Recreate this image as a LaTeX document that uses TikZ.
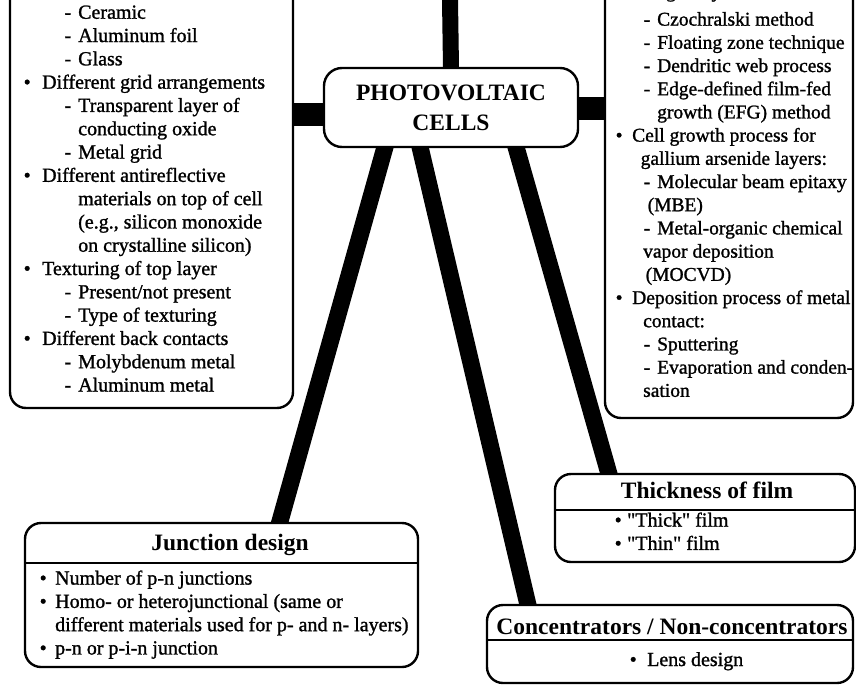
\documentclass[tikz,border=0pt]{standalone}
\usepackage{fontspec}
\setmainfont{Liberation Serif}
\newfontfamily\pvtext{Liberation Serif}[FakeBold=1.2]
\usetikzlibrary{backgrounds}

% list lines: bullet, dash and run-on lines
\newcommand\pvbul[2][18.5pt]{\makebox[#1][l]{\textbullet}#2}
\newcommand\pvdash[2][54.5pt]{\makebox[#1][r]{-\hspace{7pt}}#2}
\newcommand\pvmore[2][54.5pt]{\hspace*{#1}#2}

\tikzset{
  box/.style={draw, line width=2.4pt, rounded corners=16pt, fill=white, inner sep=0pt, outer sep=0pt},
  hub/.style={box, rounded corners=18pt, align=center, font=\bfseries\fontsize{23.5}{30}\selectfont},
  head/.style={anchor=base, inner sep=0pt, font=\bfseries\fontsize{23.5}{28}\selectfont},
  body/.style={anchor=north west, inner sep=0pt, align=left, font=\pvtext\fontsize{20}{23.3}\selectfont},
  bar/.style={line width=17pt, shorten <=-12pt, shorten >=-12pt},
  rule/.style={line width=1.6pt}
}

\begin{document}
\begin{tikzpicture}[x=1pt,y=-1pt]
\useasboundingbox (0,0) rectangle (856,685);
\clip (0,0) rectangle (856,685);

% hub and the five boxes
\node[hub, minimum width=254pt, minimum height=79pt] (pv) at (451,107.5) {PHOTOVOLTAIC\\CELLS};
\node[box, minimum width=283pt, minimum height=448pt] (mat) at (151.5,184) {};
\node[box, minimum width=248pt, minimum height=458pt] (grow) at (729,189) {};
\node[box, minimum width=393pt, minimum height=144pt] (junc) at (221.5,595) {};
\node[box, minimum width=300pt, minimum height=88pt] (thick) at (705,518) {};
\node[box, minimum width=366pt, minimum height=78pt] (conc) at (670,644) {};
\coordinate (topend) at (450,0);

% heading rules
\draw[rule] ([yshift=-40pt]junc.north west) -- ([yshift=-40pt]junc.north east);
\draw[rule] ([yshift=-36pt]thick.north west) -- ([yshift=-36pt]thick.north east);
\draw[rule] ([yshift=-35pt]conc.north west) -- ([yshift=-35pt]conc.north east);

% headings
\node[head] (junchead) at (230,550) {Junction design};
\node[head] (thickhead) at (707,498) {Thickness of film};
\node[head] (conchead) at (672,634) {Concentrators / Non-concentrators};

% box contents
\node[body] (matlist) at (23.5,5.3) {\pvdash{Ceramic}\\
  \pvdash{Aluminum foil}\\
  \pvdash{Glass}\\
  \pvbul{Different grid arrangements}\\
  \pvdash{Transparent layer of}\\
  \pvmore{conducting oxide}\\
  \pvdash{Metal grid}\\
  \pvbul{Different antireflective}\\
  \pvmore{materials on top of cell}\\
  \pvmore{(e.g., silicon monoxide}\\
  \pvmore{on crystalline silicon)}\\
  \pvbul{Texturing of top layer}\\
  \pvdash{Present/not present}\\
  \pvdash{Type of texturing}\\
  \pvbul{Different back contacts}\\
  \pvdash{Molybdenum metal}\\
  \pvdash{Aluminum metal}};

\node[body, font=\pvtext\fontsize{19.5}{23.2}\selectfont] (growlist) at (615.5,-16.3) {\pvmore[27.5pt]{single-crystal silicon:}\\[5pt]
  \pvdash[41.5pt]{Czochralski method}\\
  \pvdash[41.5pt]{Floating zone technique}\\
  \pvdash[41.5pt]{Dendritic web process}\\
  \pvdash[41.5pt]{Edge-defined film-fed}\\
  \pvmore[41.5pt]{growth (EFG) method}\\
  \pvbul[16.5pt]{Cell growth process for}\\
  \pvmore[25pt]{gallium arsenide layers:}\\
  \pvdash[41.5pt]{Molecular beam epitaxy}\\
  \pvmore[32pt]{(MBE)}\\
  \pvdash[41.5pt]{Metal-organic chemical}\\
  \pvmore[27.5pt]{vapor deposition}\\
  \pvmore[30pt]{(MOCVD)}\\
  \pvbul[16.5pt]{Deposition process of metal}\\
  \pvmore[27.5pt]{contact:}\\
  \pvdash[41.5pt]{Sputtering}\\
  \pvdash[41.5pt]{Evaporation and conden-}\\
  \pvmore[27.5pt]{sation}};

\node[body] (junclist) at (39.5,570.3) {\pvbul[15.5pt]{Number of p-n junctions}\\
  \pvbul[15.5pt]{Homo- or heterojunctional (same or}\\
  \pvmore[15.5pt]{different materials used for p- and n- layers)}\\
  \pvbul[15.5pt]{p-n or p-i-n junction}};

\node[body] (thicklist) at (614.5,512.3) {\pvbul[12.5pt]{"Thick" film}\\
  \pvbul[12.5pt]{"Thin" film}};

\node[body, anchor=base west] (conclist) at (629.5,666) {\pvbul[17.5pt]{Lens design}};

% connectors, behind the boxes
\begin{pgfonlayer}{background}
\draw[bar, line width=16pt] (pv.north) -- (topend);
\draw[bar, line width=23pt] ([yshift=-7pt]pv.west) -- ([yshift=-7pt]pv.west -| mat.east);
\draw[bar, line width=23pt] ([yshift=-1pt]pv.east) -- ([yshift=-1pt]pv.east -| grow.west);
\draw[bar] ([xshift=-66pt]pv.south) -- ([xshift=58pt]junc.north);
\draw[bar] ([xshift=-31pt]pv.south) -- ([xshift=-142pt]conc.north);
\draw[bar] ([xshift=65pt]pv.south) -- ([xshift=-96pt]thick.north);
\end{pgfonlayer}
\end{tikzpicture}
\end{document}
